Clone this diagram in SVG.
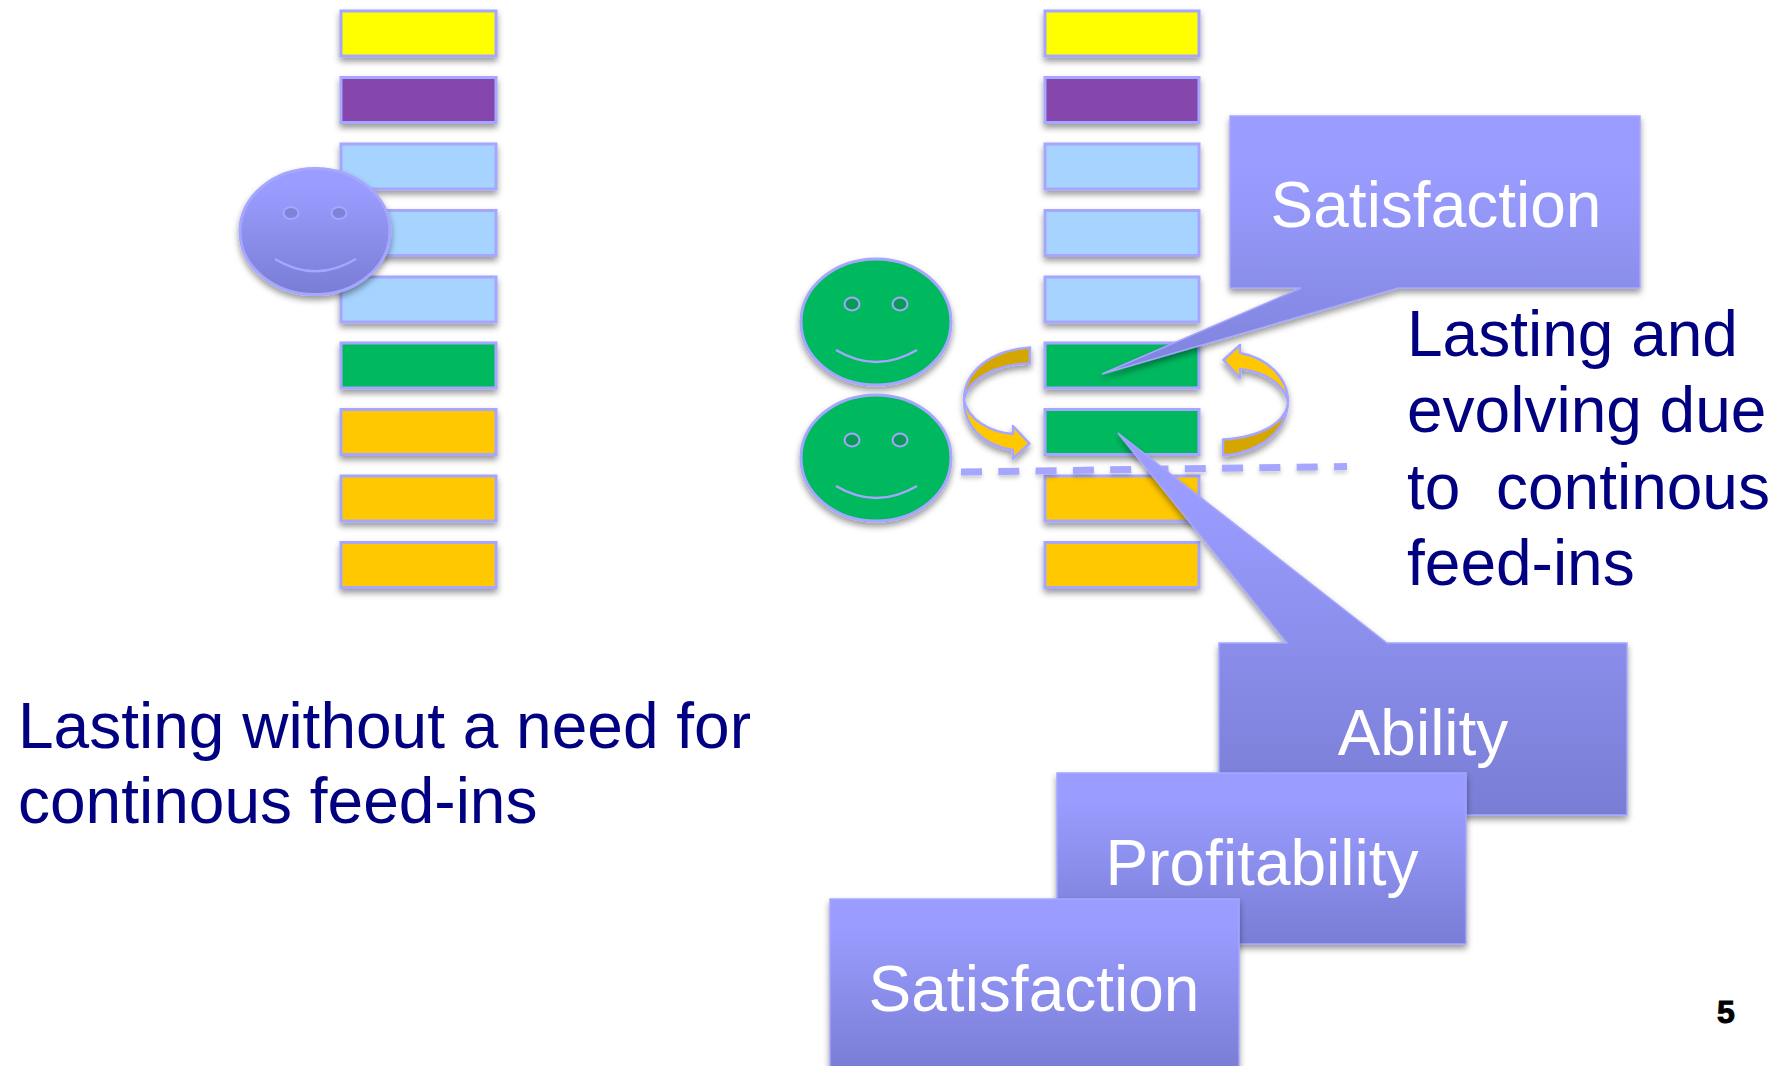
<svg xmlns="http://www.w3.org/2000/svg" width="1783" height="1066" viewBox="0 0 1783 1066">
<style>
text{font-family:"Liberation Sans",Arial,sans-serif;font-size:64px}
.w{fill:#fff;text-anchor:middle}
.n{fill:#000080}
.b{stroke:#a6a6ff;stroke-width:3;filter:url(#sh)}
.y{fill:#ffff00}.p{fill:#8546ab}.l{fill:#a6d3ff}.g{fill:#00b95f}.o{fill:#ffc800}
.d{fill:none;stroke:#a6a6ff;stroke-width:7;stroke-dasharray:21 16.3;filter:url(#sh2)}
.face{stroke:#a6a6ff;stroke-width:3;filter:url(#sh)}
.eye{stroke:#a6a6ff;stroke-width:2}
.sm{fill:none;stroke:#a6a6ff;stroke-width:2.5}
.a{stroke:#a6a6ff;stroke-width:2.5;stroke-linejoin:round}
.c{stroke:#a6a6ff;stroke-width:1.5;filter:url(#sh)}
</style>
<defs>
<filter id="sh" x="-20%" y="-20%" width="140%" height="150%"><feDropShadow dx="0" dy="4" stdDeviation="3" flood-color="#000" flood-opacity="0.4"/></filter>
<filter id="sh2" x="-5%" y="-300%" width="110%" height="700%"><feDropShadow dx="0" dy="3" stdDeviation="2" flood-color="#000" flood-opacity="0.2"/></filter>
<linearGradient id="gr" x1="0" y1="0" x2="0" y2="1"><stop offset="0.15" stop-color="#9a9dff"/><stop offset="1" stop-color="#797dd4"/></linearGradient>
<linearGradient id="gk" gradientUnits="userSpaceOnUse" x1="0" y1="433" x2="0" y2="815"><stop offset="0.15" stop-color="#9a9dff"/><stop offset="1" stop-color="#797dd4"/></linearGradient>
<linearGradient id="gt" gradientUnits="userSpaceOnUse" x1="0" y1="116" x2="0" y2="374"><stop offset="0.2" stop-color="#9a9dff"/><stop offset="0.9" stop-color="#8286e0"/></linearGradient>
<linearGradient id="gb" gradientUnits="userSpaceOnUse" x1="0" y1="899" x2="0" y2="1071"><stop offset="0.15" stop-color="#9a9dff"/><stop offset="1" stop-color="#797dd4"/></linearGradient>
</defs>
<rect width="1783" height="1066" fill="#fff"/>
<g id="stack-left">
<rect class="b y" x="341" y="11" width="155" height="45"/>
<rect class="b p" x="341" y="77.500" width="155" height="45"/>
<rect class="b l" x="341" y="144" width="155" height="45"/>
<rect class="b l" x="341" y="210.500" width="155" height="45"/>
<rect class="b l" x="341" y="277" width="155" height="45"/>
<rect class="b g" x="341" y="343" width="155" height="45"/>
<rect class="b o" x="341" y="409.500" width="155" height="45"/>
<rect class="b o" x="341" y="476" width="155" height="45"/>
<rect class="b o" x="341" y="542.500" width="155" height="45"/>
</g>
<g id="stack-right">
<rect class="b y" x="1045" y="11" width="154" height="45"/>
<rect class="b p" x="1045" y="77.500" width="154" height="45"/>
<rect class="b l" x="1045" y="144" width="154" height="45"/>
<rect class="b l" x="1045" y="210.500" width="154" height="45"/>
<rect class="b l" x="1045" y="277" width="154" height="45"/>
<rect class="b g" x="1045" y="343" width="154" height="45"/>
<rect class="b g" x="1045" y="409.500" width="154" height="45"/>
<rect class="b o" x="1045" y="476" width="154" height="45"/>
<rect class="b o" x="1045" y="542.500" width="154" height="45"/>
</g>
<g id="face-blue" transform="translate(315 231.500)">
<ellipse class="face" rx="75" ry="63" fill="url(#gr)"/>
<ellipse class="eye" cx="-24" cy="-18.500" rx="7.500" ry="6" fill="#7f83d8"/>
<ellipse class="eye" cx="24" cy="-18.500" rx="7.500" ry="6" fill="#7f83d8"/>
<path class="sm" d="M-40 27.500Q0 52 41 27.500"/>
</g>
<g id="face-green-1" transform="translate(876 322)">
<ellipse class="face" rx="75" ry="63" fill="#00b95f"/>
<ellipse class="eye" cx="-24" cy="-18" rx="7.500" ry="6.500" fill="#079a57"/>
<ellipse class="eye" cx="24" cy="-18" rx="7.500" ry="6.500" fill="#079a57"/>
<path class="sm" d="M-40 28Q0 52 41 28"/>
</g>
<g id="face-green-2" transform="translate(876 458)">
<ellipse class="face" rx="75" ry="63" fill="#00b95f"/>
<ellipse class="eye" cx="-24" cy="-18" rx="7.500" ry="6.500" fill="#079a57"/>
<ellipse class="eye" cx="24" cy="-18" rx="7.500" ry="6.500" fill="#079a57"/>
<path class="sm" d="M-40 28Q0 52 41 28"/>
</g>
<g id="arrow-left" filter="url(#sh)">
<path class="a" fill="#d6a600" d="M1030 347.500C990 350 964 372 964 400C968 380 995 364 1030 363.500Z"/>
<path class="a" fill="#ffc800" d="M964 400C968 420 990 432 1013 434L1013 426L1029.500 443.500L1013 458.500L1013 450C985 446 964 428 964 400Z"/>
</g>
<g id="arrow-right" filter="url(#sh)">
<path class="a" fill="#d6a600" d="M1223 439.500C1262 437 1288 422 1288 400C1288 430 1262 452 1223 455.500Z"/>
<path class="a" fill="#ffc800" d="M1288 405C1288 432 1262 437 1223 439.500L1223 455.500C1262 452 1289 432 1289 403Z" style="display:none"/>
<path class="a" fill="#ffc800" d="M1288 402C1288 378 1268 358 1240 353L1240 345L1223.500 360L1240 378L1240 369C1265 372 1284 384 1288 402Z"/>
</g>
<g id="connectors">
<path class="d" d="M498.500 72H1248"/>
<path class="d" d="M116 402.500H692"/>
<path class="d" d="M923 401.500H1347"/>
<path class="d" d="M961 472L1347 466.500"/>
</g>
<g id="callout-satisfaction-top">
<path class="c" fill="url(#gt)" d="M1230 116H1640V288H1398L1102 374L1301 288H1230Z"/>
<text class="w" x="1436" y="227">Satisfaction</text>
</g>
<g id="callout-ability">
<path class="c" fill="url(#gk)" d="M1219 643H1287L1118 433L1387 643H1627V815H1219Z"/>
<text class="w" x="1423" y="755">Ability</text>
</g>
<g id="box-profitability">
<rect class="c" fill="url(#gr)" x="1057" y="773" width="409" height="171"/>
<text class="w" x="1262" y="885">Profitability</text>
</g>
<g id="box-satisfaction">
<rect class="c" fill="url(#gb)" x="830" y="899" width="409" height="172"/>
<text class="w" x="1034" y="1011">Satisfaction</text>
</g>
<g id="labels">
<text class="n" x="1407" y="356">Lasting and</text>
<text class="n" x="1407" y="432">evolving due</text>
<text class="n" x="1407" y="509" xml:space="preserve">to  continous</text>
<text class="n" x="1407" y="585">feed-ins</text>
<text class="n" x="18" y="748">Lasting without a need for</text>
<text class="n" x="18" y="823">continous feed-ins</text>
<text x="1726" y="1023" text-anchor="middle" font-weight="bold" style="font-size:32px" stroke="#000" stroke-width="1">5</text>
</g>
</svg>
